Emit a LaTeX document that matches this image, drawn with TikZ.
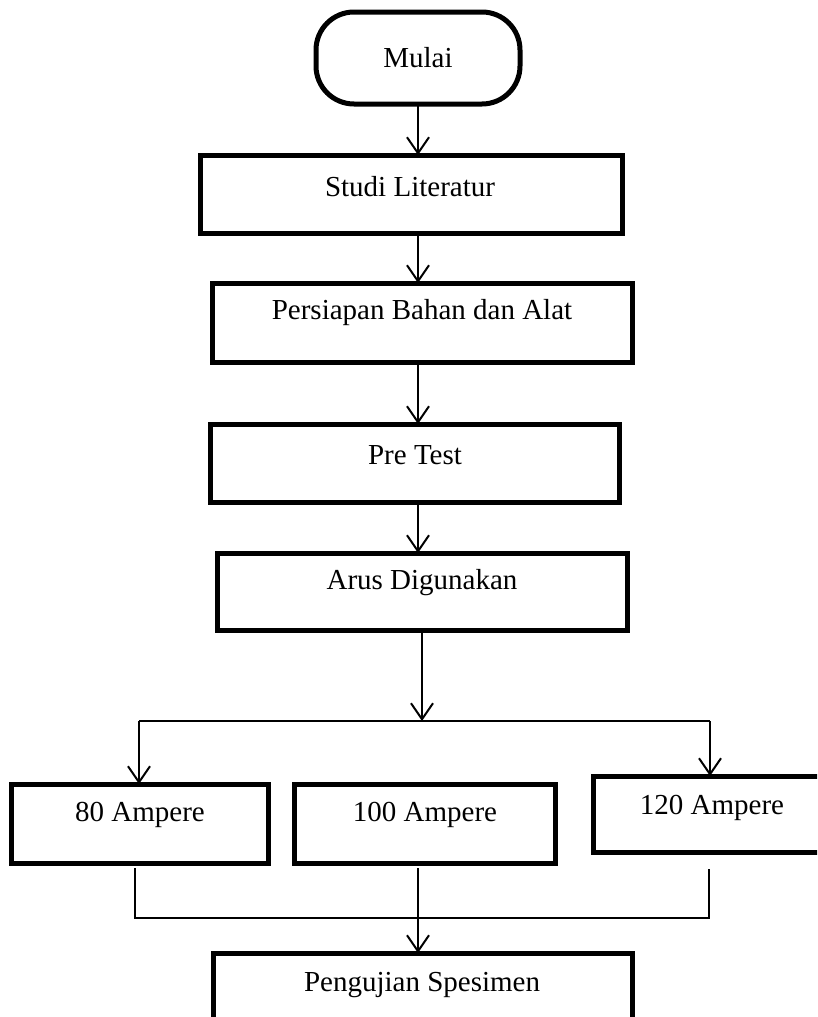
\documentclass[tikz,border=0pt]{standalone}
\usepackage{fontspec}
\setmainfont{Liberation Serif}
\usetikzlibrary{arrows.meta}
\begin{document}
\begin{tikzpicture}[x=1pt,y=-1pt,
  box/.style={draw, line width=5pt, rectangle, inner sep=0pt, outer sep=0pt},
  txt/.style={font=\fontsize{29}{34}\selectfont, inner sep=0pt},
  arr/.style={line width=2pt, -{Straight Barb[length=16pt,width=22pt,line width=2pt]}},
  ln/.style={line width=1.6pt}]
\useasboundingbox (0,0) rectangle (817,1017);
\clip (0,0) rectangle (817,1017);
\fill[white] (0,0) rectangle (817,1017);

% boxes
\node[box, rounded corners=38pt, minimum width=204pt, minimum height=92pt] (start) at (418,58) {};
\node[box, minimum width=422pt, minimum height=78pt] (studi) at (411,194) {};
\node[box, minimum width=420pt, minimum height=79pt] (prep) at (422,322.5) {};
\node[box, minimum width=409pt, minimum height=78pt] (pre) at (414.5,463) {};
\node[box, minimum width=410pt, minimum height=77pt] (arus) at (422,591.5) {};
\node[box, minimum width=257pt, minimum height=79pt] (a80) at (140,823.5) {};
\node[box, minimum width=261pt, minimum height=79pt] (a100) at (424.5,823.5) {};
\node[box, minimum width=238pt, minimum height=76pt] (a120) at (712,814) {};
\node[box, minimum width=419pt, minimum height=100pt] (peng) at (422.5,1003) {};

% texts
\node[txt] (tstart) at (418,58) {Mulai};
\node[txt] (tstudi) at (410,187) {Studi Literatur};
\node[txt] (tprep) at (422,313) {Persiapan Bahan dan Alat};
\node[txt] (tpre) at (415,455) {Pre Test};
\node[txt] (tarus) at (422,583) {Arus Digunakan};
\node[txt] (t80) at (140,815) {80 Ampere};
\node[txt] (t100) at (425,815) {100 Ampere};
\node[txt] (t120) at (712,808) {120 Ampere};
\node[txt] (tpeng) at (422,985) {Pengujian Spesimen};

% helper coordinates
\coordinate (axis) at (418,0);
\coordinate (split) at (422,721);
\coordinate (jl) at (139,721);
\coordinate (jr) at (710,721);
\coordinate (ml) at (135,918);
\coordinate (mr) at (709,918);
\coordinate (mm) at (418,918);

% main chain
\draw[arr] (start.south) -- (start.south |- studi.north);
\draw[arr] (axis |- studi.south) -- (axis |- prep.north);
\draw[arr] (axis |- prep.south) -- (axis |- pre.north);
\draw[arr] (axis |- pre.south) -- (axis |- arus.north);
\draw[arr] (split |- arus.south) -- (split);

% branch
\draw[ln] (jl) -- (jr);
\draw[arr] (jl) -- (jl |- a80.north);
\draw[arr] (jr) -- (jr |- a120.north);

% merge
\draw[ln] ([yshift=-5pt]ml |- a80.south) -- (ml) -- (mr) -- ([yshift=-17pt]mr |- a120.south);
\draw[arr] ([yshift=-5pt]mm |- a100.south) -- (mm |- peng.north);
\end{tikzpicture}
\end{document}
